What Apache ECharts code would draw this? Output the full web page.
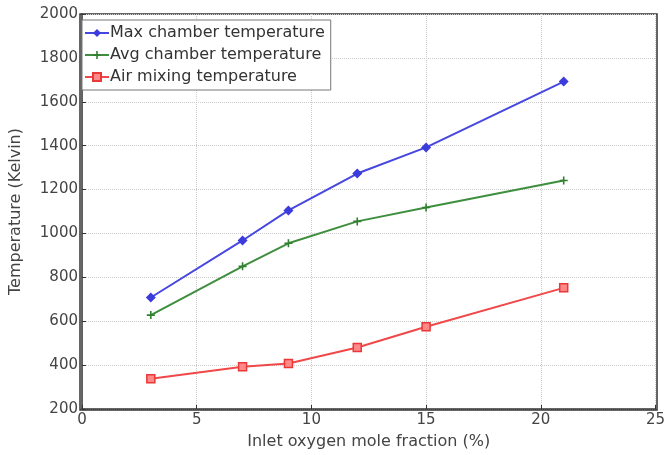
<!DOCTYPE html>
<html>
<head>
<meta charset="utf-8">
<script src="https://cdn.jsdelivr.net/npm/echarts@6/dist/echarts.min.js"></script>
<style>
html, body { margin: 0; padding: 0; background: #fff; }
#chart { width: 668px; height: 455px; }
</style>
</head>
<body>
<div id="chart"></div>
<script>
// 数据
var oxygen = [3, 7, 9, 12, 15, 21];
var maxTemp = [708, 968, 1105, 1273, 1392, 1692];
var avgTemp = [628, 850, 955, 1055, 1118, 1241];
var airTemp = [338, 393, 407, 480, 575, 752];
var seriesNames = ['Max chamber temperature', 'Avg chamber temperature', 'Air mixing temperature'];

function pairs(ys) {
    return oxygen.map(function (x, i) { return [x, ys[i]]; });
}

var plusPath = 'path://M4,0 L6,0 L6,4 L10,4 L10,6 L6,6 L6,10 L4,10 L4,6 L0,6 L0,4 L4,4 Z';
var font = '"DejaVu Sans", sans-serif';

var chart = echarts.init(document.getElementById('chart'));
chart.setOption({
    animation: false,
    textStyle: { fontFamily: font },
    grid: { left: 80, right: 11, top: 14, bottom: 45 },
    legend: {
        orient: 'vertical',
        left: 82,
        top: 20,
        itemGap: 6,
        itemWidth: 24,
        itemHeight: 10,
        padding: [5, 6, 5, 2],
        backgroundColor: '#fff',
        borderColor: '#777',
        borderWidth: 1,
        textStyle: { fontSize: 16, color: '#333', padding: [0, 0, 0, -4] },
        data: seriesNames
    },
    xAxis: {
        type: 'value',
        min: 0, max: 25, interval: 5,
        name: 'Inlet oxygen mole fraction (%)',
        nameLocation: 'middle',
        nameGap: 25,
        nameTextStyle: { fontSize: 16, color: '#444' },
        axisLine: { lineStyle: { color: '#333', width: 1.5 } },
        axisTick: { inside: true, length: 4, lineStyle: { color: '#333' } },
        axisLabel: { fontSize: 15, color: '#444', margin: 4 },
        splitLine: { show: true, lineStyle: { color: '#ccc', type: 'dotted' } }
    },
    yAxis: {
        type: 'value',
        min: 200, max: 2000, interval: 200,
        name: 'Temperature (Kelvin)',
        nameLocation: 'middle',
        nameGap: 58,
        nameTextStyle: { fontSize: 16, color: '#444' },
        axisLine: { lineStyle: { color: '#333', width: 1.5 } },
        axisTick: { inside: true, length: 4, lineStyle: { color: '#333' } },
        axisLabel: {
            fontSize: 15, color: '#444', margin: 4,
            formatter: function (v) { return String(v); }
        },
        splitLine: { show: true, lineStyle: { color: '#ccc', type: 'dotted' } }
    },
    graphic: [{
        type: 'rect',
        shape: { x: 80, y: 14, width: 577, height: 396 },
        style: { fill: 'none', stroke: '#333', lineWidth: 1.5 },
        silent: true,
        z: 0
    }],
    series: [{
        name: seriesNames[0],
        type: 'line',
        data: pairs(maxTemp),
        symbol: 'diamond',
        symbolSize: 10,
        lineStyle: { color: '#4646e0', width: 2 },
        itemStyle: { color: '#3c3cdc' }
    }, {
        name: seriesNames[1],
        type: 'line',
        data: pairs(avgTemp),
        symbol: plusPath,
        symbolSize: 8,
        lineStyle: { color: '#3e8e3e', width: 2 },
        itemStyle: { color: '#2f7f2f' }
    }, {
        name: seriesNames[2],
        type: 'line',
        data: pairs(airTemp),
        symbol: 'rect',
        symbolSize: 8,
        lineStyle: { color: '#f04848', width: 2 },
        itemStyle: { color: '#f88', borderColor: '#e83838', borderWidth: 1.5 }
    }]
});
</script>
</body>
</html>
